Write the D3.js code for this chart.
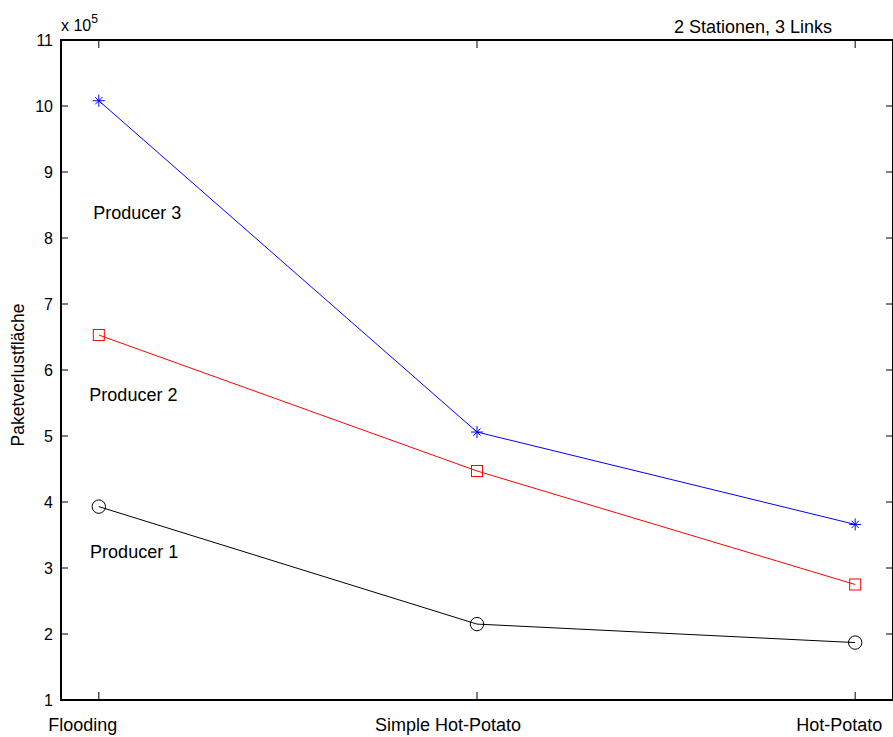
<!DOCTYPE html>
<html>
<head>
<meta charset="utf-8">
<script src="https://cdnjs.cloudflare.com/ajax/libs/d3/7.8.5/d3.min.js"></script>
<style>
  body { margin: 0; background: #fff; }
  text { font-family: "Liberation Sans", Arial, sans-serif; fill: #000; }
</style>
</head>
<body>
<script>
var categories = ['Flooding', 'Simple Hot-Potato', 'Hot-Potato'];
var producer1 = [3.93, 2.15, 1.87];
var producer2 = [6.53, 4.47, 2.75];
var producer3 = [10.08, 5.06, 3.66];
var yTicks = [1, 2, 3, 4, 5, 6, 7, 8, 9, 10, 11];

// label anchors are in data units, like MATLAB text()
var series = [
  { name: 'Producer 1', values: producer1, color: '#000', marker: 'circle', label: [0.977, 3.24] },
  { name: 'Producer 2', values: producer2, color: '#ff0000', marker: 'square', label: [0.975, 5.62] },
  { name: 'Producer 3', values: producer3, color: '#0000ff', marker: 'star', label: [0.985, 8.38] }
];

var W = 893, H = 737;
var mLeft = 61, mRight = 893, mTop = 40, mBottom = 700;
// the exported tick labels sit a bit left of their ticks
var labelShift = [-16, -29, -16];

var svg = d3.select('body').append('svg')
  .attr('width', W)
  .attr('height', H);

var x = d3.scaleLinear().domain([0.9, 3.1]).range([mLeft, mRight]);
var y = d3.scaleLinear().domain([1, 11]).range([mBottom, mTop]);

// box
svg.append('rect')
  .attr('x', mLeft).attr('y', mTop)
  .attr('width', mRight - mLeft).attr('height', mBottom - mTop)
  .attr('fill', 'none').attr('stroke', '#000').attr('stroke-width', 2);

// y ticks, inside on both sides
yTicks.forEach(function(t) {
  svg.append('line').attr('x1', mLeft).attr('x2', mLeft + 7)
    .attr('y1', y(t)).attr('y2', y(t)).attr('stroke', '#000');
  svg.append('line').attr('x1', mRight - 7).attr('x2', mRight)
    .attr('y1', y(t)).attr('y2', y(t)).attr('stroke', '#000');
  svg.append('text')
    .attr('x', mLeft - 8).attr('y', y(t) + 6)
    .attr('text-anchor', 'end')
    .attr('font-size', 16)
    .text(t);
});

// x ticks
categories.forEach(function(c, i) {
  var xx = x(i + 1);
  svg.append('line').attr('x1', xx).attr('x2', xx)
    .attr('y1', mBottom).attr('y2', mBottom - 8).attr('stroke', '#000');
  svg.append('line').attr('x1', xx).attr('x2', xx)
    .attr('y1', mTop).attr('y2', mTop + 8).attr('stroke', '#000');
  svg.append('text')
    .attr('x', xx + labelShift[i]).attr('y', 731)
    .attr('text-anchor', 'middle')
    .attr('font-size', 18)
    .text(c);
});

// exponent
var ex = svg.append('text').attr('x', 61).attr('y', 31).attr('font-size', 16);
ex.append('tspan').text('x 10');
ex.append('tspan').attr('font-size', 12).attr('dy', -8).text('5');

// title
svg.append('text')
  .attr('x', 753).attr('y', 33)
  .attr('text-anchor', 'middle')
  .attr('font-size', 18)
  .text('2 Stationen, 3 Links');

// y label
svg.append('text')
  .attr('transform', 'translate(24,375) rotate(-90)')
  .attr('text-anchor', 'middle')
  .attr('font-size', 17.5)
  .text('Paketverlustfläche');

var line = d3.line()
  .x(function(d, i) { return x(i + 1); })
  .y(function(d) { return y(d); });

series.forEach(function(s) {
  svg.append('path')
    .attr('d', line(s.values))
    .attr('fill', 'none')
    .attr('stroke', s.color)
    .attr('stroke-width', 1);

  s.values.forEach(function(v, i) {
    var cx = x(i + 1), cy = y(v);
    if (s.marker === 'circle') {
      svg.append('circle').attr('cx', cx).attr('cy', cy).attr('r', 6.7)
        .attr('fill', 'none').attr('stroke', s.color);
    } else if (s.marker === 'square') {
      svg.append('rect').attr('x', cx - 5.5).attr('y', cy - 5.5)
        .attr('width', 11).attr('height', 11)
        .attr('fill', 'none').attr('stroke', s.color);
    } else {
      var r = 6;
      [[0, r], [r, 0], [r * 0.6, r * 0.6], [r * 0.6, -r * 0.6]].forEach(function(d) {
        svg.append('line')
          .attr('x1', cx - d[0]).attr('y1', cy - d[1])
          .attr('x2', cx + d[0]).attr('y2', cy + d[1])
          .attr('stroke', s.color);
      });
    }
  });

  svg.append('text')
    .attr('x', x(s.label[0])).attr('y', y(s.label[1]) + 6)
    .attr('font-size', 18)
    .text(s.name);
});
</script>
</body>
</html>
